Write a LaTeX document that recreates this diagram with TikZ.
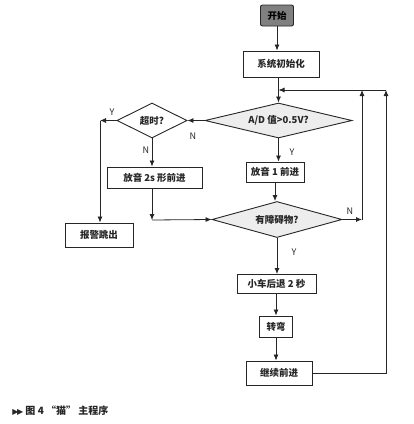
\documentclass[tikz,border=0pt]{standalone}
\usepackage{fontspec}
\setmainfont{Noto Sans CJK SC}
\newfontfamily\symfont{DejaVu Sans}
\usetikzlibrary{shapes.geometric,arrows.meta}
\begin{document}
\begin{tikzpicture}[x=1pt,y=-1pt,
  line width=0.8pt,
  conn/.style={draw=black!85, line width=0.8pt},
  arr/.style={conn, -{Latex[length=6pt,width=5pt]}},
  procbox/.style={draw=black!85, line width=0.9pt, inner sep=0pt, font=\fontsize{9.5}{10}\selectfont\bfseries, text=black!85},
  decision/.style={diamond, draw=black!85, line width=0.9pt, inner sep=0pt, font=\fontsize{9.5}{10}\selectfont\bfseries, text=black!85},
  lab/.style={font=\fontsize{9}{10}\selectfont, inner sep=0pt, text=black!85}]
\useasboundingbox (0,0) rectangle (414,424);

% nodes
\node[procbox, rounded corners=2pt, fill=black!50, text=black, minimum width=33pt, minimum height=21pt] (start) at (277,15.5) {开始};
\node[procbox, minimum width=76pt, minimum height=26pt] (init) at (281,64) {系统初始化};
\node[decision, fill=black!7, aspect=4.2, minimum width=147pt, minimum height=35pt] (ad) at (278.5,120.5) {A/D 值>0.5V?};
\node[decision, aspect=2, minimum width=70pt, minimum height=35pt] (to) at (152,120.5) {超时?};
\node[procbox, minimum width=95pt, minimum height=21pt] (fy2) at (154.5,177.5) {放音 2s 形前进};
\node[procbox, minimum width=58pt, minimum height=20pt] (fy1) at (275,172) {放音 1 前进};
\node[procbox, minimum width=68pt, minimum height=24pt] (alarm) at (99,235) {报警跳出};
\node[decision, fill=black!7, aspect=3.6, minimum width=130pt, minimum height=36pt] (ob) at (277,219.5) {有障碍物?};
\node[procbox, minimum width=79pt, minimum height=19pt] (back) at (276.5,284) {小车后退 2 秒};
\node[procbox, minimum width=33pt, minimum height=21pt] (turn) at (276,326.5) {转弯};
\node[procbox, minimum width=66pt, minimum height=24pt] (cont) at (279,373) {继续前进};

% helper coordinates
\coordinate (j1) at (278.5,90);
\coordinate (r1) at (362,90);
\coordinate (r1b) at (362,219.5);
\coordinate (r2) at (386,90);
\coordinate (r2b) at (386,373);
\coordinate (c1) at (100,120.5);
\coordinate (c2) at (152,220);

% connectors
\draw[arr] (start.south) -- (start.south |- init.north);
\draw[arr] (init.south -| ad.north) -- (ad.north);
\draw[arr] (ad.west) -- (to.east);
\draw[arr] (ad.south) -- (ad.south |- fy1.north);
\draw[arr] (to.west) -- (c1);
\draw[arr] (c1) -- (c1 |- alarm.north);
\draw[arr] (to.south) -- (to.south |- fy2.north);
\draw[arr] (fy2.south -| c2) -- (c2);
\draw[arr] (c2) -- (ob.west);
\draw[arr] (fy1.south) -- (fy1.south |- ob.north);
\draw[arr] (ob.east) -- (r1b);
\draw[arr] (r1b) -- (r1);
\draw[arr] (cont.east) -- (r2b) -- (r2);
\draw[arr] (r2) -- (j1);
\draw[arr] (ob.south) -- (ob.south |- back.north);
\draw[arr] (back.south -| turn.north) -- (turn.north);
\draw[arr] (turn.south) -- (turn.south |- cont.north);

% labels
\node[lab] (lY1) at (112,112) {Y};
\node[lab] (lN1) at (193,136) {N};
\node[lab] (lN2) at (146,150) {N};
\node[lab] (lY2) at (292,152) {Y};
\node[lab] (lN3) at (350,211) {N};
\node[lab] (lY3) at (294,252) {Y};

% caption
\node[anchor=west, inner sep=0pt, font=\fontsize{10}{11}\selectfont\bfseries, text=black!85] (cap) at (12,411) {{\symfont\fontsize{8}{9}\selectfont ▶\kern-1.5pt▶}\ 图 4 “猫” 主程序};
\end{tikzpicture}
\end{document}
